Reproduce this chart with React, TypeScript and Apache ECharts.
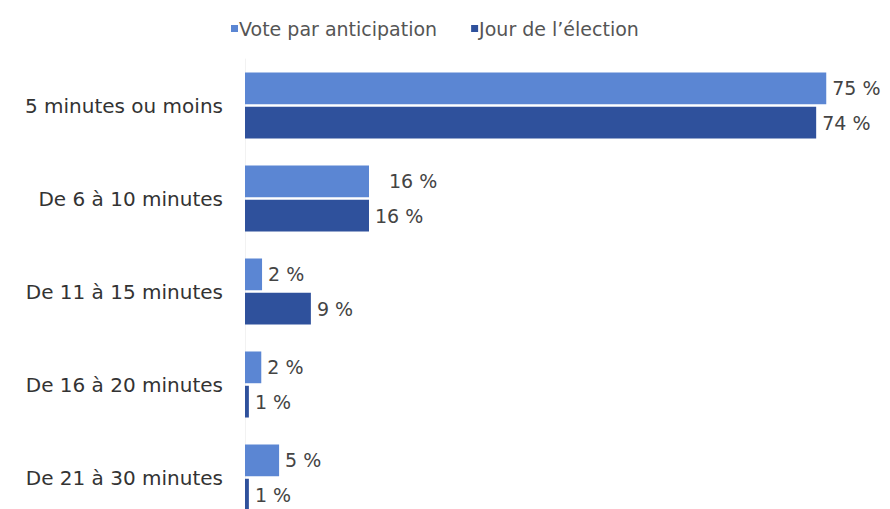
import React, { useEffect, useRef } from "react";
import * as echarts from "echarts";

const categories = [
  "5 minutes ou moins",
  "De 6 à 10 minutes",
  "De 11 à 15 minutes",
  "De 16 à 20 minutes",
  "De 21 à 30 minutes",
];
const seriesNames = ["Vote par anticipation", "Jour de l’élection"];
const anticipationValues = [75, 16, 2.2, 2.1, 4.4];
const electionValues = [73.7, 16, 8.5, 0.5, 0.5];
const anticipationLabels = ["75 %", "16 %", "2 %", "2 %", "5 %"];
const electionLabels = ["74 %", "16 %", "9 %", "1 %", "1 %"];

const FONT = "'DejaVu Sans', Verdana, sans-serif";

export default function App() {
  const ref = useRef<HTMLDivElement>(null);
  useEffect(() => {
    if (!ref.current) return;
    const chart = echarts.init(ref.current, undefined, { renderer: "svg" });
    const mk = (vals: number[], labels: string[], color: string, special?: number) =>
      vals.map((v, i) => ({
        value: v,
        itemStyle: { color },
        label: {
          show: true,
          position: "right",
          distance: i === special ? 20 : 6,
          formatter: labels[i],
          color: "#444",
          fontSize: 19,
          fontFamily: FONT,
        },
      }));
    chart.setOption({
      animation: false,
      backgroundColor: "#fff",
      legend: {
        top: 14,
        left: 226,
        itemWidth: 7,
        itemHeight: 7,
        itemGap: 34,
        icon: "rect",
        textStyle: { color: "#555", fontSize: 19, fontFamily: FONT, padding: [0, 0, 0, -4] },
        data: seriesNames,
      },
      grid: { left: 245, width: 620, top: 59, height: 465, containLabel: false },
      xAxis: {
        type: "value",
        min: 0,
        max: 80,
        show: false,
      },
      yAxis: {
        type: "category",
        inverse: true,
        data: categories,
        axisLine: { show: true, lineStyle: { color: "#f2f2f2" } },
        axisTick: { show: false },
        axisLabel: { color: "#333", fontSize: 20, fontFamily: FONT, margin: 22 },
      },
      series: [
        {
          name: seriesNames[0],
          type: "bar",
          barGap: "8%",
          barCategoryGap: "29%",
          itemStyle: { color: "#5b86d3" },
          data: mk(anticipationValues, anticipationLabels, "#5b86d3", 1),
        },
        {
          name: seriesNames[1],
          type: "bar",
          itemStyle: { color: "#2f519c" },
          data: mk(electionValues, electionLabels, "#2f519c"),
        },
      ],
    });
    return () => chart.dispose();
  }, []);
  return (
    <div
      style={{
        position: "absolute",
        left: 0,
        top: 0,
        width: 890,
        height: 509,
        overflow: "hidden",
        background: "#fff",
      }}
    >
      <div ref={ref} style={{ width: 890, height: 540 }} />
    </div>
  );
}
